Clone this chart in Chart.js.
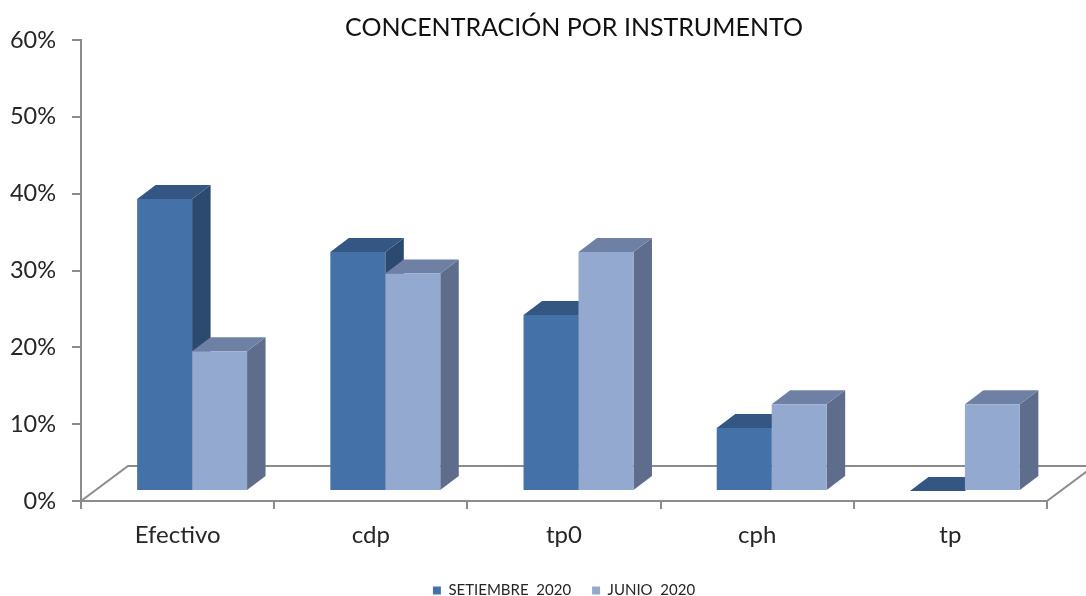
<!DOCTYPE html>
<html>
<head>
<meta charset="utf-8">
<style>html,body{margin:0;padding:0;background:#fff}#wrap{width:1086px;height:596px}canvas{display:block}</style>
<script src="https://cdn.jsdelivr.net/npm/chart.js@4"></script>
</head>
<body>
<div id="wrap"><canvas id="c" width="1086" height="596"></canvas></div>
<script>
const categories = ["Efectivo", "cdp", "tp0", "cph", "tp"];
const setiembre = [38, 31.1, 22.9, 8.2, 0];
const junio = [18.2, 28.3, 31.1, 11.3, 11.3];
const seriesNames = ["SETIEMBRE  2020", "JUNIO  2020"];
const frontColors = ["#4472A8", "#93A9D0"];
const topColors = ["#335682", "#6E80A3"];
const sideColors = ["#2C4970", "#5E6D8B"];
const titleText = "CONCENTRACIÓN POR INSTRUMENTO";
const FONT = "Lato, Carlito, sans-serif";
const AXIS = "#8C8C8C";
const INK = "#262626";
const barShift = {x: 14.5, y: 10};
const depth = {x: 18.5, y: 14};
const floorDepth = {x: 47, y: 35};

const bars3d = {
  id: "bars3d",
  afterLayout(chart) {
    chart.titleBlock.left += 10;
    chart.titleBlock.right += 10;
    chart.legend.top += 12;
    chart.legend.bottom += 12;
  },
  beforeDatasetsDraw(chart) {
    const ctx = chart.ctx, a = chart.chartArea;
    ctx.save();
    ctx.strokeStyle = AXIS;
    ctx.lineWidth = 2;
    ctx.beginPath();
    ctx.moveTo(a.left, a.bottom);
    ctx.lineTo(a.left + floorDepth.x, a.bottom - floorDepth.y);
    ctx.lineTo(chart.width, a.bottom - floorDepth.y);
    ctx.moveTo(a.right, a.bottom);
    ctx.lineTo(a.right + floorDepth.x, a.bottom - floorDepth.y);
    ctx.stroke();
    ctx.restore();

    ctx.save();
    ctx.translate(barShift.x, -barShift.y);
    chart.data.datasets.forEach((ds, i) => {
      chart.getDatasetMeta(i).data.forEach(bar => {
        const p = bar.getProps(["x", "y", "base", "width"], true);
        const l = p.x - p.width / 2, r = p.x + p.width / 2;
        ctx.fillStyle = sideColors[i];
        ctx.beginPath();
        ctx.moveTo(r, p.y);
        ctx.lineTo(r + depth.x, p.y - depth.y);
        ctx.lineTo(r + depth.x, p.base - depth.y);
        ctx.lineTo(r, p.base);
        ctx.closePath();
        ctx.fill();
        ctx.fillStyle = topColors[i];
        ctx.beginPath();
        ctx.moveTo(l, p.y);
        ctx.lineTo(l + depth.x, p.y - depth.y);
        ctx.lineTo(r + depth.x, p.y - depth.y);
        ctx.lineTo(r, p.y);
        ctx.closePath();
        ctx.fill();
      });
    });
  },
  afterDatasetsDraw(chart) {
    chart.ctx.restore();
  }
};

new Chart(document.getElementById("c"), {
  type: "bar",
  data: {
    labels: categories,
    datasets: [
      {label: seriesNames[0], data: setiembre, backgroundColor: frontColors[0], borderWidth: 0},
      {label: seriesNames[1], data: junio, backgroundColor: frontColors[1], borderWidth: 0}
    ]
  },
  plugins: [bars3d],
  options: {
    responsive: false,
    animation: false,
    devicePixelRatio: 1,
    clip: false,
    layout: {padding: {left: 0, right: 39, top: 0, bottom: 0}},
    datasets: {bar: {categoryPercentage: 0.569, barPercentage: 1}},
    scales: {
      x: {
        grid: {drawOnChartArea: false, color: AXIS, lineWidth: 2, tickLength: 8, offset: true},
        border: {color: AXIS, width: 2},
        ticks: {color: INK, font: {family: FONT, size: 24}, padding: 12, maxRotation: 0, autoSkip: false},
        afterFit(s) { s.height = 49; }
      },
      y: {
        min: 0, max: 60,
        grid: {drawOnChartArea: false, color: AXIS, lineWidth: 2, tickLength: 9},
        border: {color: AXIS, width: 2},
        ticks: {stepSize: 10, color: INK, font: {family: FONT, size: 23.5}, padding: 16, callback: v => v + "%"},
        afterFit(s) { s.width = 81; }
      }
    },
    plugins: {
      tooltip: {enabled: false},
      title: {
        display: true, text: titleText, fullSize: false, color: "#111",
        font: {family: FONT, size: 25, weight: "normal"},
        padding: {top: 13, bottom: -3}
      },
      legend: {
        position: "bottom", fullSize: false,
        labels: {boxWidth: 8, boxHeight: 8, padding: 21, color: INK, font: {family: FONT, size: 15}}
      }
    }
  }
});
</script>
</body>
</html>
